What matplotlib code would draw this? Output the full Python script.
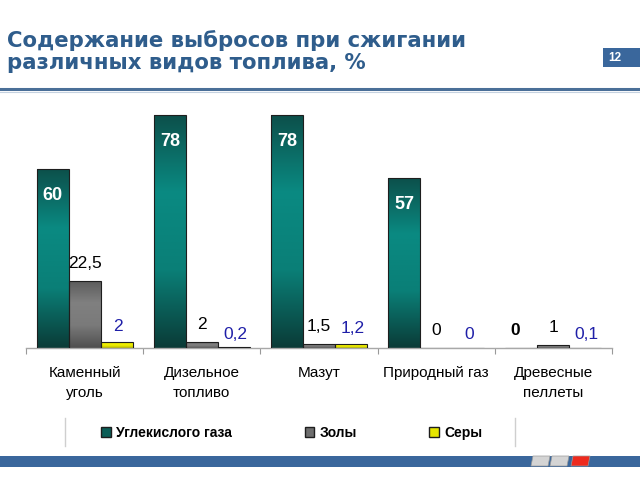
import numpy as np
import matplotlib
matplotlib.use('Agg')
import matplotlib.pyplot as plt
from matplotlib.colors import LinearSegmentedColormap
from matplotlib.patches import Patch, Rectangle, Polygon
from matplotlib.lines import Line2D

plt.rcParams['font.family'] = ['Liberation Sans', 'DejaVu Sans']

# Данные
categories = ['Каменный\nуголь', 'Дизельное\nтопливо', 'Мазут', 'Природный газ', 'Древесные\nпеллеты']
co2 = [60, 78, 78, 57, 0]
ash = [22.5, 2, 1.5, 0, 1]
sulfur = [2, 0.2, 1.2, 0, 0.1]
series_names = ['Углекислого газа', 'Золы', 'Серы']

title_line1 = 'Содержание выбросов при сжигании'
title_line2 = 'различных видов топлива, %'
page_no = '12'

TITLE_BLUE = '#2f5d8c'
BAND_BLUE = '#3a679c'
LABEL_BLUE = '#1f1fa8'

cmap_green = LinearSegmentedColormap.from_list('g', ['#0b3b37', '#0a7f77', '#0a8a82', '#0d4f4a'])
cmap_gray = LinearSegmentedColormap.from_list('k', ['#4e4e4e', '#7a7a7a', '#808080', '#5a5a5a'])
cmap_yel = LinearSegmentedColormap.from_list('y', ['#b8b800', '#f0f000', '#e4e400'])


def fmt(v):
    s = ('%g' % v).replace('.', ',')
    return s


fig = plt.figure(figsize=(6.4, 4.8), dpi=100)
ax = fig.add_axes([26 / 640, 1 - 348 / 480, 586 / 640, 248 / 480])

x = np.arange(len(categories))
w = 0.273
grad = np.linspace(0, 1, 256).reshape(-1, 1)

series = [(co2, -w, cmap_green, '#0a6b64'), (ash, 0, cmap_gray, '#6e6e6e'), (sulfur, w, cmap_yel, '#e6e600')]
for vals, off, cm, base in series:
    bars = ax.bar(x + off, vals, width=w, color=base, edgecolor='#1e1e1e', linewidth=0.8, zorder=2)
    for b in bars:
        if b.get_height() <= 0:
            continue
        im = ax.imshow(grad, extent=[b.get_x(), b.get_x() + b.get_width(), 0, b.get_height()],
                       aspect='auto', cmap=cm, origin='lower', zorder=2.5)
        im.set_clip_path(b)
    for b in bars:
        b.set_facecolor('none')
        b.set_zorder(3)

# Подписи значений
for i, v in enumerate(co2):
    if v > 0:
        ax.annotate(fmt(v), (x[i] - w, v), xytext=(0, -19), textcoords='offset points',
                    ha='center', va='center', color='white', fontsize=13, fontweight='bold', zorder=5)
    else:
        ax.annotate(fmt(v), (x[i] - w - 0.05, v), xytext=(0, 7), textcoords='offset points',
                    ha='center', va='bottom', color='black', fontsize=12.5, fontweight='bold', zorder=5)
for i, v in enumerate(ash):
    ax.annotate(fmt(v), (x[i], v), xytext=(0, 7), textcoords='offset points',
                ha='center', va='bottom', color='black', fontsize=12.5, zorder=5)
for i, v in enumerate(sulfur):
    ax.annotate(fmt(v), (x[i] + w, v), xytext=(1, 6 if v > 1 else 4), textcoords='offset points',
                ha='center', va='bottom', color=LABEL_BLUE, fontsize=12.5, zorder=5)

ax.set_xlim(-0.5, len(categories) - 0.5)
ax.set_ylim(0, 83)
ax.set_xticks(x)
ax.set_xticklabels(categories, fontsize=11, linespacing=1.5)
ax.set_xticks(np.arange(-0.5, len(categories), 1), minor=True)
ax.tick_params(axis='x', which='major', length=0, pad=13)
ax.tick_params(axis='x', which='minor', length=4, width=0.8, color='#999999')
ax.set_yticks([])
for s in ['top', 'right', 'left']:
    ax.spines[s].set_visible(False)
ax.spines['bottom'].set_color('#a8a8a8')
ax.spines['bottom'].set_linewidth(1.0)

# Легенда
handles = [Patch(facecolor='#0b5e57', edgecolor='#1e1e1e', label=series_names[0]),
           Patch(facecolor='#6e6e6e', edgecolor='#1e1e1e', label=series_names[1]),
           Patch(facecolor='#e6e600', edgecolor='#1e1e1e', label=series_names[2])]
fig.legend(handles=handles, loc='center', bbox_to_anchor=(292 / 640, 1 - 433 / 480), ncol=3,
           frameon=False, handlelength=0.7, handleheight=0.7, handletextpad=0.4,
           columnspacing=5.2, prop={'size': 10, 'weight': 'bold'})
for xs in (65, 515):
    fig.add_artist(Line2D([xs / 640, xs / 640], [1 - 418 / 480, 1 - 446 / 480], color='#cfcfcf', lw=1))

# Заголовок
fig.text(7 / 640, 1 - 47 / 480, title_line1, fontsize=15.3, fontweight='bold', color=TITLE_BLUE,
         family='DejaVu Sans', va='baseline')
fig.text(7 / 640, 1 - 69 / 480, title_line2, fontsize=15.3, fontweight='bold', color=TITLE_BLUE,
         family='DejaVu Sans', va='baseline')
fig.add_artist(Rectangle((603 / 640, 1 - 67 / 480), 37 / 640, 19 / 480, transform=fig.transFigure,
                         facecolor=BAND_BLUE, edgecolor='none'))
fig.text(608 / 640, 1 - 58 / 480, page_no, fontsize=8.5, fontweight='bold', color='white', va='center')
fig.add_artist(Line2D([0, 1], [1 - 89 / 480, 1 - 89 / 480], color='#4a6f98', lw=2.2))
fig.add_artist(Line2D([0, 1], [1 - 91.5 / 480, 1 - 91.5 / 480], color='#c5d2e0', lw=0.8))

# Нижняя полоса
fig.add_artist(Rectangle((0, 1 - 467 / 480), 1, 11 / 480, transform=fig.transFigure,
                         facecolor=BAND_BLUE, edgecolor='none'))
for x0, col in ((531, '#d4d4d4'), (550, '#d4d4d4'), (571, '#ee2a1e')):
    pts = [((x0 + 2) / 640, 1 - 456 / 480), ((x0 + 19) / 640, 1 - 456 / 480),
           ((x0 + 17) / 640, 1 - 466 / 480), (x0 / 640, 1 - 466 / 480)]
    fig.add_artist(Polygon(pts, closed=True, transform=fig.transFigure, facecolor=col,
                           edgecolor='#9a9a9a', lw=0.5))

fig.savefig('out.png', dpi=100, facecolor='white')
